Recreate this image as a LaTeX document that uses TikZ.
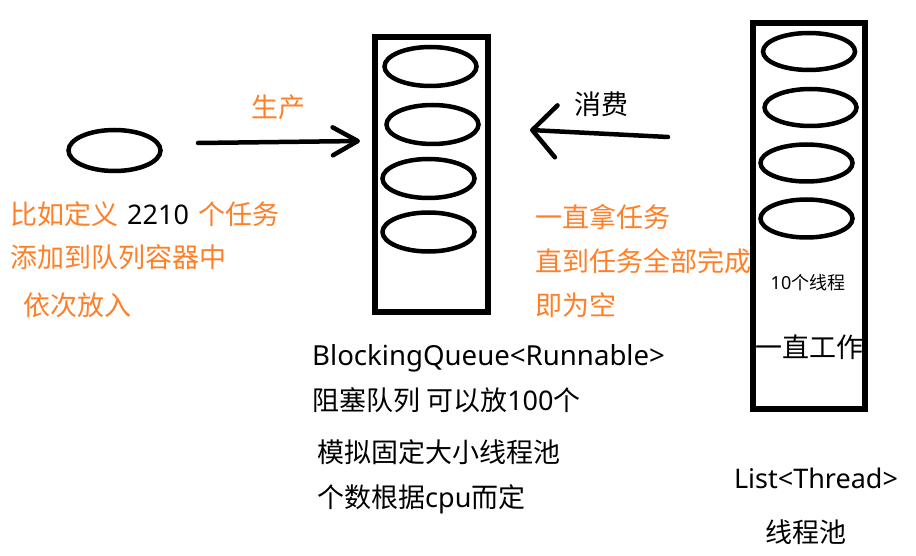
\documentclass[tikz,border=0pt]{standalone}
\usepackage{fontspec}
\setmainfont{Noto Sans CJK SC}
\newfontfamily\latin{Noto Sans}
\usepackage{xcolor}
\usepackage{tikz}
\usetikzlibrary{shapes.geometric,arrows.meta}
\definecolor{paintorange}{HTML}{FF7F27}

\begin{document}
\begin{tikzpicture}[x=1pt,y=-1pt,
  slot/.style={draw,ellipse,line width=4.5pt,minimum width=92pt,minimum height=39pt,inner sep=0pt},
  box/.style={draw,line width=5.5pt,inner sep=0pt},
  txt/.style={anchor=base west,inner sep=0pt,font=\fontsize{27}{27}\selectfont},
  note/.style={txt,text=paintorange},
  flow/.style={line width=4.5pt,line cap=round}]
\useasboundingbox (0,0) rectangle (916,556);

% task to be queued
\node[slot,minimum height=41pt] (task) at (114.5,150.5) {};
\node[note] (define) at (10,225) {比如定义\hspace{3pt} \textcolor{black}{\latin 2210}\hspace{3pt} 个任务};
\node[note] (add) at (10,268) {添加到队列容器中};
\node[note] (putin) at (23,315) {依次放入};

% produce
\coordinate (prodS) at (198,143);
\coordinate (prodE) at (360,141);
\draw[flow,-{Straight Barb[length=25pt,width=28pt,line width=4.5pt,round]}] (prodS) -- (prodE);
\node[note,anchor=base] (produce) at (278,118) {生产};

% blocking queue
\node[box,minimum width=113pt,minimum height=275pt] (queue) at (431.5,174.5) {};
\node[slot] (q1) at (430.5,66.5) {};
\node[slot] (q2) at (432.5,124.5) {};
\node[slot] (q3) at (428.5,178.5) {};
\node[slot] (q4) at (428.5,232) {};
\node[txt,font=\fontsize{27.6}{27.6}\selectfont] (qtype) at (312,365) {\latin BlockingQueue<Runnable>};
\node[txt] (qsize) at (312,410) {阻塞队列 可以放{\latin 100}个};
\node[txt] (fixed) at (317,462) {模拟固定大小线程池};
\node[txt] (count) at (317,507) {个数根据{\latin cpu}而定};

% consume
\coordinate (consS) at (668,137);
\coordinate (consE) at (530,130);
\draw[flow,-{Straight Barb[length=24pt,width=52pt,line width=4.5pt,round]}] (consS) -- (consE);
\node[txt,anchor=base] (consume) at (601,114.5) {消费};
\node[note] (take) at (535,228) {一直拿任务};
\node[note] (until) at (535,272) {直到任务全部完成};
\node[note] (empty) at (535,315) {即为空};

% thread pool
\node[box,minimum width=112pt,minimum height=386pt] (pool) at (809,216) {};
\node[slot,minimum height=37pt] (t1) at (809,51.5) {};
\node[slot,minimum height=37pt] (t2) at (810.5,107.5) {};
\node[slot,minimum height=37pt] (t3) at (806.5,163) {};
\node[slot,minimum height=38pt] (t4) at (806.5,218.5) {};
\node[txt,anchor=base,font=\fontsize{18}{18}\selectfont] (tnum) at (808,289) {{\latin 10}个线程};
\node[txt,anchor=base] (work) at (809,357) {一直工作};
\node[txt,anchor=base] (ptype) at (816,488) {\latin List<Thread>};
\node[txt,anchor=base] (pname) at (806,542) {线程池};
\end{tikzpicture}
\end{document}
